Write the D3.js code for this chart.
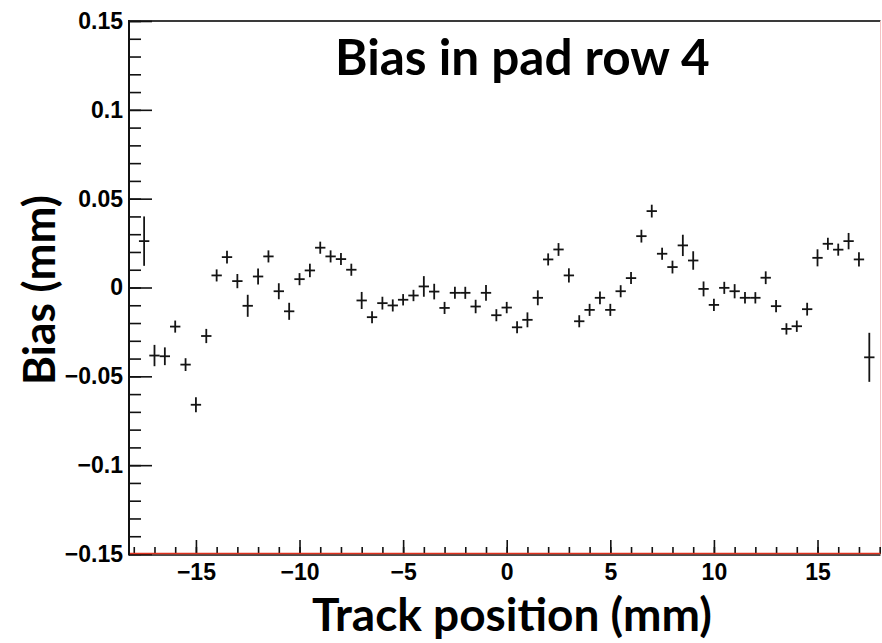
<!DOCTYPE html>
<html>
<head>
<meta charset="utf-8">
<script src="https://cdn.jsdelivr.net/npm/d3@7"></script>
<style>
  html, body { margin: 0; padding: 0; background: #fff; }
  svg { display: block; }
</style>
</head>
<body>
<svg id="chart" width="882" height="643"></svg>
<script>
// Bin centres along the track (mm)
const positions = [
  -17.5, -17, -16.5, -16, -15.5, -15, -14.5, -14, -13.5, -13,
  -12.5, -12, -11.5, -11, -10.5, -10, -9.5, -9, -8.5, -8,
  -7.5, -7, -6.5, -6, -5.5, -5, -4.5, -4, -3.5, -3,
  -2.5, -2, -1.5, -1, -0.5, 0, 0.5, 1, 1.5, 2,
  2.5, 3, 3.5, 4, 4.5, 5, 5.5, 6, 6.5, 7,
  7.5, 8, 8.5, 9, 9.5, 10, 10.5, 11, 11.5, 12,
  12.5, 13, 13.5, 14, 14.5, 15, 15.5, 16, 16.5, 17,
  17.5
];

// Mean bias per bin (mm)
const bias = [
  0.0261, -0.0383, -0.0387, -0.0220, -0.0434, -0.0660, -0.0273, 0.0068, 0.0171, 0.0036,
  -0.0103, 0.0062, 0.0175, -0.0021, -0.0134, 0.0047, 0.0096, 0.0224, 0.0175, 0.0160,
  0.0100, -0.0073, -0.0167, -0.0088, -0.0101, -0.0069, -0.0045, 0.0006, -0.0023, -0.0115,
  -0.0030, -0.0030, -0.0107, -0.0030, -0.0156, -0.0113, -0.0224, -0.0182, -0.0058, 0.0158,
  0.0214, 0.0068, -0.0190, -0.0126, -0.0058, -0.0126, -0.0021, 0.0053, 0.0289, 0.0430,
  0.0190, 0.0115, 0.0237, 0.0152, -0.0008, -0.0098, -0.0002, -0.0021, -0.0058, -0.0058,
  0.0055, -0.0105, -0.0233, -0.0218, -0.0122, 0.0167, 0.0246, 0.0213, 0.0261, 0.0158,
  -0.0393
];

// Statistical error on each bin mean (mm)
const biasErr = [
  0.0139, 0.0060, 0.0050, 0.0034, 0.0036, 0.0042, 0.0040, 0.0034, 0.0036, 0.0040,
  0.0062, 0.0045, 0.0034, 0.0045, 0.0048, 0.0034, 0.0038, 0.0034, 0.0034, 0.0034,
  0.0034, 0.0048, 0.0034, 0.0036, 0.0034, 0.0032, 0.0032, 0.0058, 0.0044, 0.0034,
  0.0034, 0.0034, 0.0038, 0.0044, 0.0034, 0.0032, 0.0034, 0.0042, 0.0042, 0.0034,
  0.0036, 0.0040, 0.0034, 0.0034, 0.0036, 0.0034, 0.0034, 0.0034, 0.0036, 0.0036,
  0.0034, 0.0036, 0.0060, 0.0052, 0.0042, 0.0034, 0.0034, 0.0040, 0.0032, 0.0032,
  0.0036, 0.0034, 0.0032, 0.0032, 0.0036, 0.0048, 0.0034, 0.0034, 0.0046, 0.0040,
  0.0138
];

const binHalfWidth = 0.25;

const xTickValues = [-15, -10, -5, 0, 5, 10, 15];
const yTickValues = [-0.15, -0.1, -0.05, 0, 0.05, 0.1, 0.15];

const titleText = "Bias in pad row 4";
const xTitleText = "Track position (mm)";
const yTitleText = "Bias (mm)";

// ---- layout ----
const frame = { left: 129, right: 880.5, top: 21, bottom: 554 };

const svg = d3.select("#chart");
svg.append("rect").attr("width", 882).attr("height", 643).attr("fill", "#fff");

const x = d3.scaleLinear().domain([-18.23, 18.04]).range([frame.left, frame.right]);
const y = d3.scaleLinear().domain([-0.15, 0.15]).range([frame.bottom, frame.top]);

const fmt = d3.format("~g");
const tickFont = "'Liberation Sans', Arial, Helvetica, sans-serif";
const titleFont = "Lato, 'Open Sans', sans-serif";
const tickFontSize = 23;

// ---- frame ----
svg.append("line")
  .attr("x1", frame.left).attr("x2", frame.right)
  .attr("y1", frame.top).attr("y2", frame.top)
  .attr("stroke", "#3a3a3a").attr("stroke-width", 2);
svg.append("line")
  .attr("x1", frame.right).attr("x2", frame.right)
  .attr("y1", frame.top).attr("y2", frame.bottom)
  .attr("stroke", "#f2c4c4").attr("stroke-width", 1);

// ---- y axis (ticks point into the pad) ----
const yMinor = svg.append("g").attr("transform", `translate(${frame.left},0)`)
  .call(d3.axisLeft(y).tickValues(y.ticks(30)).tickSize(-12).tickFormat(""));
const yMajor = svg.append("g").attr("transform", `translate(${frame.left},0)`)
  .call(d3.axisLeft(y).tickValues(yTickValues).tickSize(-23).tickPadding(6).tickFormat(fmt));
[yMinor, yMajor].forEach(g => {
  g.select(".domain").remove();
  g.selectAll(".tick line").attr("stroke", "#111").attr("stroke-width", 1.6);
});
yMajor.selectAll(".tick text")
  .attr("font-family", tickFont).attr("font-weight", "bold")
  .attr("font-size", tickFontSize).attr("fill", "#000");

// ---- x axis ----
const xMinor = svg.append("g").attr("transform", `translate(0,${frame.bottom})`)
  .call(d3.axisBottom(x).tickValues(x.ticks(36)).tickSize(-7).tickFormat(""));
const xMajor = svg.append("g").attr("transform", `translate(0,${frame.bottom})`)
  .call(d3.axisBottom(x).tickValues(xTickValues).tickSize(-14).tickPadding(10).tickFormat(fmt));
[xMinor, xMajor].forEach(g => {
  g.select(".domain").remove();
  g.selectAll(".tick line").attr("stroke", "#111").attr("stroke-width", 1.6);
});
xMajor.selectAll(".tick text")
  .attr("font-family", tickFont).attr("font-weight", "bold")
  .attr("font-size", tickFontSize).attr("fill", "#000");

// bottom edge: black axis with the red baseline drawn on top
svg.append("line")
  .attr("x1", frame.left).attr("x2", frame.right)
  .attr("y1", frame.bottom + 1).attr("y2", frame.bottom + 1)
  .attr("stroke", "#111").attr("stroke-width", 1.5);
svg.append("line")
  .attr("x1", frame.left).attr("x2", frame.right)
  .attr("y1", frame.bottom - 0.5).attr("y2", frame.bottom - 0.5)
  .attr("stroke", "#e0321e").attr("stroke-width", 1.5);

// left axis line
svg.append("line")
  .attr("x1", frame.left).attr("x2", frame.left)
  .attr("y1", frame.top - 1).attr("y2", frame.bottom + 1.5)
  .attr("stroke", "#111").attr("stroke-width", 2);

// ---- data points with error bars ----
const points = positions.map((p, i) => ({ p, v: bias[i], e: biasErr[i] }));
const marks = svg.append("g").attr("stroke", "#141414").attr("stroke-width", 1.8).attr("fill", "none");
marks.selectAll("line.h").data(points).join("line").attr("class", "h")
  .attr("x1", d => x(d.p - binHalfWidth)).attr("x2", d => x(d.p + binHalfWidth))
  .attr("y1", d => y(d.v)).attr("y2", d => y(d.v));
marks.selectAll("line.v").data(points).join("line").attr("class", "v")
  .attr("x1", d => x(d.p)).attr("x2", d => x(d.p))
  .attr("y1", d => y(d.v - d.e)).attr("y2", d => y(d.v + d.e));

// ---- titles ----
function fitText(sel, width) {
  const w = sel.node().getComputedTextLength();
  const fs = parseFloat(sel.attr("font-size"));
  sel.attr("font-size", fs * width / w);
}

const title = svg.append("text")
  .attr("x", 335).attr("y", 75)
  .attr("font-family", titleFont).attr("font-weight", "bold").attr("font-size", 44)
  .attr("fill", "#000").text(titleText);
fitText(title, 375);

const xTitle = svg.append("text")
  .attr("x", 312).attr("y", 631)
  .attr("font-family", titleFont).attr("font-weight", "bold").attr("font-size", 44)
  .attr("fill", "#000").text(xTitleText);
fitText(xTitle, 400);

const yTitle = svg.append("text")
  .attr("transform", "translate(55,290) rotate(-90)")
  .attr("text-anchor", "middle")
  .attr("font-family", titleFont).attr("font-weight", "bold").attr("font-size", 44)
  .attr("fill", "#000").text(yTitleText);
fitText(yTitle, 190);
</script>
</body>
</html>
